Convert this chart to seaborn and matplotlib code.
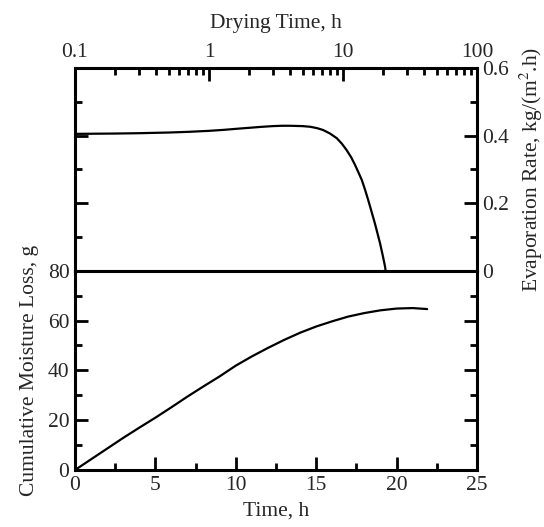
import numpy as np
import pandas as pd
import matplotlib
matplotlib.use("Agg")
import matplotlib.pyplot as plt
import seaborn as sns
from matplotlib.ticker import MultipleLocator, LogLocator, NullFormatter

sns.set_style("ticks")
plt.rcParams['font.family'] = ['Liberation Serif', 'DejaVu Serif']
plt.rcParams['mathtext.fontset'] = 'stix'

# Evaporation rate vs drying time (log axis)
drying_time = [0.1, 0.2, 0.3, 0.5, 0.7, 1.0, 1.3, 1.6, 2.0, 2.5, 3.0, 3.5,
               4.0, 5.0, 5.7, 6.4, 7.1, 8.0, 9.0, 9.8, 10.6, 11.5, 12.3,
               13.0, 13.8, 14.6, 15.4, 16.3, 17.3, 18.1, 18.9, 19.8, 20.6, 20.8]
evap_rate = [0.405, 0.406, 0.407, 0.409, 0.411, 0.414, 0.417, 0.420, 0.423,
             0.426, 0.428, 0.429, 0.429, 0.428, 0.426, 0.422, 0.4165, 0.406,
             0.392, 0.376, 0.358, 0.336, 0.313, 0.292, 0.269, 0.240, 0.210,
             0.176, 0.140, 0.110, 0.081, 0.045, 0.012, 0.0]

# Cumulative moisture loss vs time
time_h = [0, 1, 2, 3, 4, 5, 6, 7, 8, 9, 10, 11, 12, 13, 14, 15, 16, 17,
          18, 19, 20, 21, 21.9]
moisture_loss = [0, 4.3, 8.6, 12.9, 17.0, 21.0, 25.2, 29.5, 33.6, 37.6,
                 41.9, 45.6, 49.0, 52.2, 55.1, 57.6, 59.7, 61.6, 63.0, 64.1,
                 64.8, 65.0, 64.6]

top_xticks = [0.1, 1, 10, 100]
top_xticklabels = ["0.1", "1", "10", "100"]

df_top = pd.DataFrame({"t": drying_time, "r": evap_rate})
df_bot = pd.DataFrame({"t": time_h, "m": moisture_loss})

fig = plt.figure(figsize=(5.44, 5.27), dpi=100)
L, W = 75 / 544, (477 - 75) / 544
ax_top = fig.add_axes([L, (527 - 270.7) / 527, W, (270.7 - 68) / 527])
ax_bot = fig.add_axes([L, (527 - 470) / 527, W, (470 - 270.7) / 527])

FS = 15.5
lw_spine = 2.2

sns.lineplot(data=df_top, x="t", y="r", ax=ax_top, color="black", lw=1.6, sort=False)
sns.lineplot(data=df_bot, x="t", y="m", ax=ax_bot, color="black", lw=1.6, sort=False)

# top axes
ax_top.set_xscale("log")
ax_top.set_xlim(0.1, 100)
ax_top.set_ylim(0, 0.6)
ax_top.set_xticks(top_xticks)
ax_top.set_xticklabels(top_xticklabels)
ax_top.xaxis.set_minor_locator(LogLocator(base=10, subs=np.arange(2, 10)))
ax_top.xaxis.set_minor_formatter(NullFormatter())
ax_top.yaxis.set_minor_locator(MultipleLocator(0.1))
ax_top.set_yticks([0, 0.2, 0.4, 0.6])
ax_top.set_yticklabels(["0", "0.2", "0.4", "0.6"])
ax_top.xaxis.set_label_position("top")
ax_top.yaxis.set_label_position("right")
ax_top.tick_params(axis="x", which="both", direction="in", top=True, bottom=False,
                   labeltop=True, labelbottom=False)
ax_top.tick_params(axis="y", which="both", direction="in", left=True, right=True,
                   labelleft=False, labelright=True)
ax_top.set_xlabel("Drying Time, h", fontsize=FS, labelpad=11)
ax_top.set_ylabel("Evaporation Rate, kg/(m$^2$.h)", fontsize=FS, labelpad=6)

# bottom axes
ax_bot.set_xlim(0, 25)
ax_bot.set_ylim(0, 80)
ax_bot.xaxis.set_major_locator(MultipleLocator(5))
ax_bot.xaxis.set_minor_locator(MultipleLocator(2.5))
ax_bot.yaxis.set_major_locator(MultipleLocator(20))
ax_bot.yaxis.set_minor_locator(MultipleLocator(10))
ax_bot.tick_params(axis="x", which="both", direction="in", top=False, bottom=True)
ax_bot.tick_params(axis="y", which="both", direction="in", left=True, right=True,
                   labelleft=True, labelright=False)
ax_bot.set_xlabel("Time, h", fontsize=FS, labelpad=5)
ax_bot.set_ylabel("Cumulative Moisture Loss, g", fontsize=FS, labelpad=6)

for ax in (ax_top, ax_bot):
    for s in ax.spines.values():
        s.set_linewidth(lw_spine)
        s.set_color("black")
        s.set_visible(True)
    ax.tick_params(which="major", length=9.5, width=2.0, labelsize=FS, pad=4, color="black")
    ax.tick_params(which="minor", length=5, width=2.0, color="black")
    ax.set_facecolor("white")

fig.savefig("out.png", dpi=100, facecolor="white")
